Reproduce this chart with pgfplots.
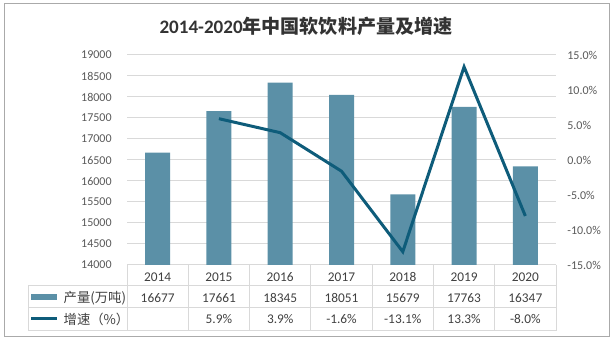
\documentclass[border=0pt]{standalone}
\usepackage{fontspec}
\setmainfont{Carlito}
\newfontfamily\cjk{Noto Sans CJK SC}
\usepackage{pgfplots}
\pgfplotsset{compat=1.18}
\definecolor{barc}{RGB}{91,144,167}
\definecolor{linec}{RGB}{14,92,122}
\definecolor{gridc}{RGB}{217,217,217}
\definecolor{tickc}{RGB}{89,89,89}
\definecolor{txtc}{RGB}{64,64,64}
\definecolor{titlec}{RGB}{51,51,51}
\definecolor{borderc}{RGB}{170,170,170}
\begin{document}
\begin{tikzpicture}[x=0.75pt,y=0.75pt]
\path[use as bounding box] (0,0) rectangle (614,341);
\draw[borderc, line width=0.75pt] (4,4) rectangle (609,337);
\node[font=\bfseries\fontsize{14.3}{16}\selectfont, text=titlec] at (306,315) {2014-2020{\cjk\bfseries 年中国软饮料产量及增速}};
\begin{axis}[at={(95.25pt,57pt)}, anchor=south west, scale only axis,
  width=321.75pt, height=157.5pt,
  xmin=-0.5, xmax=6.5, ymin=14000, ymax=19000, ytick distance=500,
  xtick=\empty, axis line style={draw=none}, major tick length=0pt,
  ymajorgrids, grid style={gridc, line width=0.75pt},
  /pgf/number format/assume math mode=true,
  scaled y ticks=false,
  yticklabel style={text=tickc, font=\fontsize{9}{10}\selectfont, xshift=-8pt,
    /pgf/number format/set thousands separator={}},
  ybar, bar width=18.75pt]
\addplot[fill=barc, draw=none] coordinates {(0,16677) (1,17661) (2,18345) (3,18051) (4,15679) (5,17763) (6,16347)};
\end{axis}
\begin{axis}[at={(95.25pt,57pt)}, anchor=south west, scale only axis,
  width=321.75pt, height=157.5pt,
  xmin=-0.5, xmax=6.5, ymin=-15, ymax=15, ytick distance=5,
  axis y line*=right, xtick=\empty, axis x line=none,
  axis line style={draw=none}, major tick length=0pt,
  /pgf/number format/assume math mode=true,
  yticklabel style={text=tickc, font=\fontsize{9}{10}\selectfont, xshift=5pt},
  yticklabel={\pgfmathprintnumber[fixed,fixed zerofill,precision=1]{\tick}\%}]
\addplot[linec, line width=2.25pt, mark=none] coordinates {(1,5.9) (2,3.9) (3,-1.6) (4,-13.1) (5,13.3) (6,-8.0)};
\end{axis}
% data table
\begin{scope}[gridc, line width=0.75pt]
\foreach \k in {0,...,7} {\draw ({127+\k*61.2857},76) -- ({127+\k*61.2857},10);}
\draw (28,55) -- (28,10);
\draw (28,55) -- (556,55);
\draw (28,33) -- (556,33);
\draw (28,10) -- (556,10);
\end{scope}
\begin{scope}[every node/.style={text=txtc, font=\fontsize{10}{12}\selectfont}]
\foreach \yr [count=\i from 0] in {2014,2015,2016,2017,2018,2019,2020}
  \node at ({127+(\i+0.5)*61.2857},64) {\yr};
\foreach \v [count=\i from 0] in {16677,17661,18345,18051,15679,17763,16347}
  \node at ({127+(\i+0.5)*61.2857},43) {\v};
\foreach \v [count=\i from 1] in {5.9\%,3.9\%,-1.6\%,-13.1\%,13.3\%,-8.0\%}
  \node at ({127+(\i+0.5)*61.2857},22) {\v};
\fill[barc] (31,41) rectangle (57,47);
\draw[linec, line width=2.25pt] (31,22) -- (57,22);
\node[anchor=west] at (59,43) {\cjk 产量(万吨)};
\node[anchor=west] at (59,22) {\cjk 增速（\%）};
\end{scope}
\end{tikzpicture}
\end{document}
